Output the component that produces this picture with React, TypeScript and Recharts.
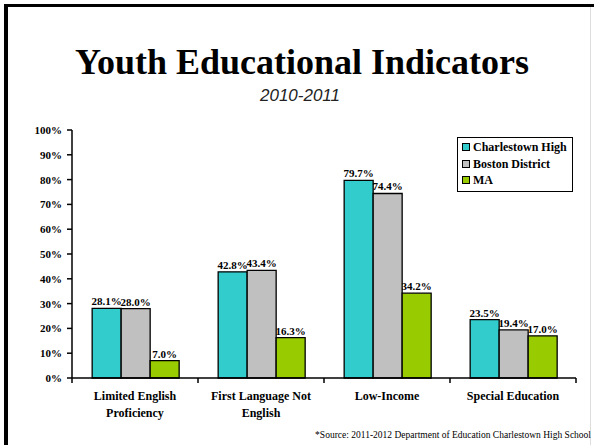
import React from "react";
import { Bar, BarChart, LabelList, XAxis, YAxis } from "recharts";

const categories = [
  "Limited English Proficiency",
  "First Language Not English",
  "Low-Income",
  "Special Education",
];
const categoryLines = [
  ["Limited English", "Proficiency"],
  ["First Language Not", "English"],
  ["Low-Income"],
  ["Special Education"],
];
const charlestown = [28.1, 42.8, 79.7, 23.5];
const boston = [28.0, 43.4, 74.4, 19.4];
const ma = [7.0, 16.3, 34.2, 17.0];
const yTicks = [0, 10, 20, 30, 40, 50, 60, 70, 80, 90, 100];

const series = [
  { key: "charlestown", name: "Charlestown High", color: "#33CCCC" },
  { key: "boston", name: "Boston District", color: "#C0C0C0" },
  { key: "ma", name: "MA", color: "#99CC00" },
];

const data = categories.map((c, i) => ({
  category: c,
  charlestown: charlestown[i],
  boston: boston[i],
  ma: ma[i],
}));

const serif = "'Liberation Serif', 'Times New Roman', serif";

function CategoryTick(props: any) {
  const { x, y, payload, index } = props;
  const half = payload.offset ?? 63;
  const lines = categoryLines[index] ?? [payload.value];
  return (
    <g>
      <line x1={x - half} x2={x - half} y1={y - 8} y2={y - 3} stroke="#000" strokeWidth={1.5} />
      {index === categories.length - 1 && (
        <line x1={x + half} x2={x + half} y1={y - 8} y2={y - 3} stroke="#000" strokeWidth={1.5} />
      )}
      {lines.map((l: string, i: number) => (
        <text
          key={i}
          x={x}
          y={y + 14 + i * 17}
          textAnchor="middle"
          fontFamily={serif}
          fontWeight="bold"
          fontSize={12}
          fill="#000"
        >
          {l}
        </text>
      ))}
    </g>
  );
}

function LegendBox() {
  return (
    <div
      style={{
        position: "absolute",
        left: 457,
        top: 137,
        width: 105,
        border: "1.5px solid #000",
        background: "#fff",
        padding: "1px 5px 2px 4px",
        fontFamily: serif,
        fontWeight: "bold",
        fontSize: 12,
        lineHeight: "16.5px",
        whiteSpace: "nowrap",
      }}
    >
      {series.map((s) => (
        <div key={s.key} style={{ display: "flex", alignItems: "center", gap: 3 }}>
          <span
            style={{
              display: "inline-block",
              width: 6,
              height: 6,
              background: s.color,
              border: "1px solid #000",
            }}
          />
          {s.name}
        </div>
      ))}
    </div>
  );
}

export default function App() {
  return (
    <div
      style={{
        position: "absolute",
        left: 0,
        top: 0,
        width: 594,
        height: 445,
        background: "#fff",
        overflow: "hidden",
      }}
    >
      <div style={{ position: "absolute", left: 4, top: 4, width: 590, height: 3, background: "#000" }} />
      <div style={{ position: "absolute", left: 4, top: 4, width: 4, height: 441, background: "#000" }} />
      <div style={{ position: "absolute", left: 590, top: 7, width: 1, height: 438, background: "#ddd" }} />
      <svg width={594} height={120} style={{ position: "absolute", left: 0, top: 0 }}>
        <text
          x={302}
          y={74}
          textAnchor="middle"
          fontFamily={serif}
          fontWeight="bold"
          fontSize={36}
          fill="#000"
        >
          Youth Educational Indicators
        </text>
        <text
          x={300}
          y={101}
          textAnchor="middle"
          fontFamily="'Liberation Sans', Arial, sans-serif"
          fontStyle="italic"
          fontSize={17}
          fill="#222"
        >
          2010-2011
        </text>
      </svg>
      <div style={{ position: "absolute", left: 0, top: 0 }}>
        <BarChart
          width={594}
          height={445}
          data={data}
          margin={{ top: 130, right: 18, left: 0, bottom: 0 }}
          barCategoryGap="16%"
          barGap={0}
        >
          <YAxis
            width={72}
            domain={[0, 100]}
            ticks={yTicks}
            interval={0}
            tickFormatter={(v: number) => `${v}%`}
            tick={{ fontFamily: serif, fontWeight: "bold", fontSize: 11, fill: "#000" }}
            tickLine={{ stroke: "#000", strokeWidth: 1.5 }}
            axisLine={{ stroke: "#000", strokeWidth: 1.5 }}
            tickSize={5}
            tickMargin={5}
          />
          <XAxis
            dataKey="category"
            height={67}
            interval={0}
            tickLine={false}
            axisLine={{ stroke: "#000", strokeWidth: 1.5 }}
            tick={<CategoryTick />}
          />
          {series.map((s) => (
            <Bar
              key={s.key}
              dataKey={s.key}
              name={s.name}
              fill={s.color}
              stroke="#000"
              strokeWidth={1.3}
              isAnimationActive={false}
            >
              <LabelList
                dataKey={s.key}
                position="top"
                offset={3}
                formatter={(v: any) => `${Number(v).toFixed(1)}%`}
                style={{ fontFamily: serif, fontWeight: "bold", fontSize: 11, fill: "#000" }}
              />
            </Bar>
          ))}
        </BarChart>
      </div>
      <LegendBox />
      <div
        style={{
          position: "absolute",
          right: 3,
          top: 430,
          fontFamily: serif,
          fontSize: 9.5,
          color: "#000",
          whiteSpace: "nowrap",
        }}
      >
        *Source: 2011-2012 Department of Education Charlestown High School
      </div>
    </div>
  );
}
